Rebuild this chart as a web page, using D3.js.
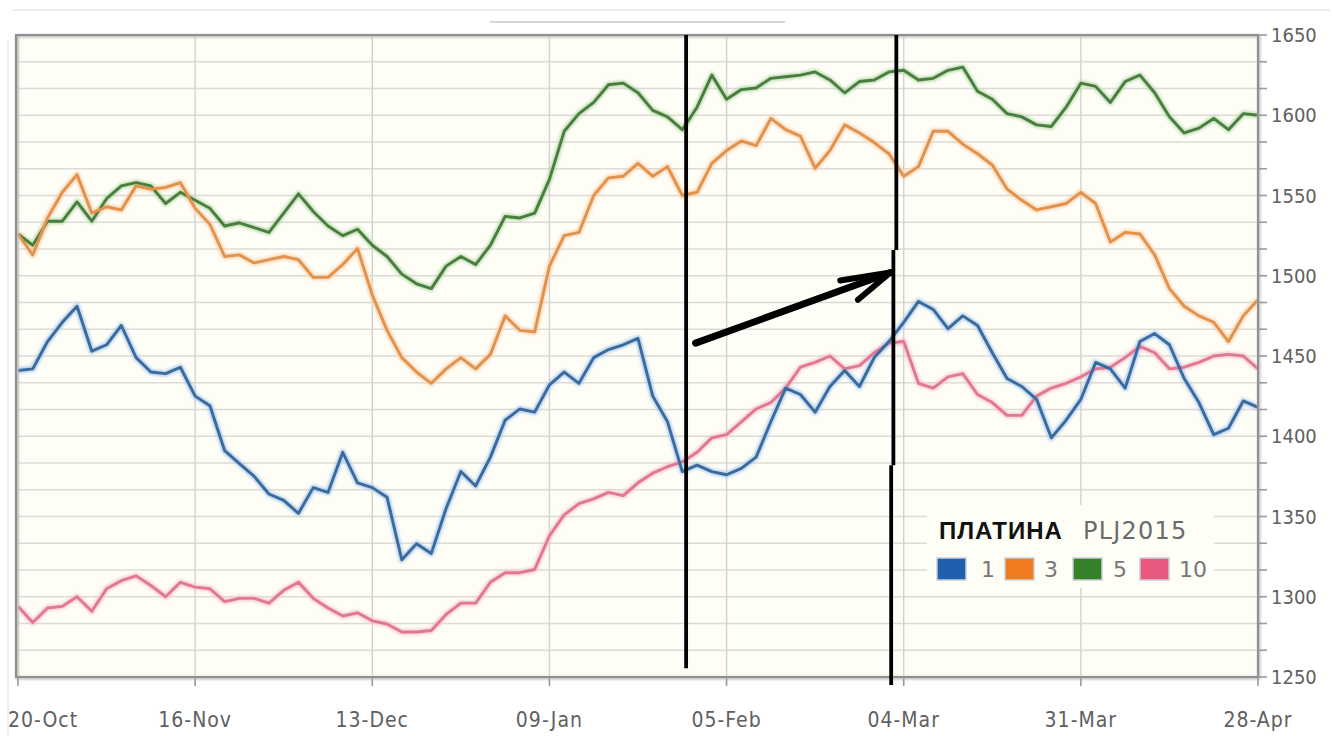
<!DOCTYPE html>
<html><head><meta charset="utf-8">
<script src="https://cdn.jsdelivr.net/npm/d3@7"></script>
<style>body{margin:0;background:#fff;}svg{display:block}</style>
</head><body><svg id="c" width="1333" height="736"></svg>
<script>
// ---- data ----
const tickLabels = ["20-Oct","16-Nov","13-Dec","09-Jan","05-Feb","04-Mar","31-Mar","28-Apr"];
const tickIndex  = [0,12,24,36,48,60,72,84];
const yMajor = [1250,1300,1350,1400,1450,1500,1550,1600,1650];
const seriesNames = ["1","3","5","10"];
const s1 = [1441,1442,1459,1471,1481,1453,1457,1469,1449,1440,1439,1443,1425,1419,1391,1383,1375,1364,1360,1352,1368,1365,1390,1371,1368,1362,1323,1333,1327,
 1355,1378,1369,1387,1410,1417,1415,1432,1440,1433,1449,1454,1457,1461,1425,1409,1378,1382,1378,1376,1380,1387,1409,1430,1426,1415,1431,1441,
 1431,1449,1459,1471,1484,1479,1467,1475,1469,1452,1436,1431,1423,1399,1410,1423,1446,1442,1430,1459,1464,1457,1436,1421,1401,1405,1422,1418];
const s3 = [1526,1513,1536,1552,1563,1539,1543,1541,1556,1554,1555,1558,1542,1532,1512,1513,1508,1510,1512,1510,1499,1499,1507,1517,1488,1466,1449,1440,1433,
 1442,1449,1442,1451,1475,1466,1465,1506,1525,1527,1550,1561,1562,1570,1562,1568,1550,1552,1570,1578,1584,1581,1598,1591,1587,1567,1578,1594,
 1589,1583,1576,1562,1568,1590,1590,1582,1576,1569,1554,1547,1541,1543,1545,1552,1545,1521,1527,1526,1513,1492,1481,1475,1471,1459,1475,1485];
const s5 = [1526,1519,1534,1534,1546,1534,1548,1556,1558,1556,1545,1552,1547,1542,1531,1533,1530,1527,1539,1551,1540,1531,1525,1529,1519,1512,1501,1495,1492,
 1506,1512,1507,1519,1537,1536,1539,1560,1590,1601,1608,1619,1620,1614,1603,1599,1591,1605,1625,1610,1616,1617,1623,1624,1625,1627,1622,1614,
 1621,1622,1627,1628,1622,1623,1628,1630,1615,1610,1601,1599,1594,1593,1605,1620,1618,1608,1621,1625,1614,1599,1589,1592,1598,1591,1601,1600];
const s10 = [1294,1284,1293,1294,1300,1291,1305,1310,1313,1307,1300,1309,1306,1305,1297,1299,1299,1296,1304,1309,1299,1293,1288,1290,1285,1283,1278,1278,1279,
 1289,1296,1296,1309,1315,1315,1317,1338,1351,1358,1361,1365,1363,1371,1377,1381,1384,1390,1399,1401,1409,1417,1421,1430,1443,1446,1450,1442,
 1444,1452,1458,1459,1433,1430,1437,1439,1426,1421,1413,1413,1425,1430,1433,1437,1442,1443,1449,1456,1452,1442,1443,1446,1450,1451,1450,1442];
const seriesValues = [s1, s3, s5, s10];
const lineColors   = ["#3b6a9c","#e0924e","#4a7d40","#e07894"];
const glowColors   = ["#a8c8ec","#f8d0a8","#b5d8a8","#f6c4d0"];
const swatchColors = ["#1f5fae","#ef7a1f","#37802a","#e9587e"];
// hand-drawn annotations (data coordinates: index, value)
const markX = [45.26, 59.5, 59.3, 59.15];
const markY0 = [1650, 1650, 1516, 1382];
const markY1 = [1255.5, 1516, 1382, 1245];
const arrowPts = [[45.9,1458],[59.1,1502]];
const headPts = [[55.7,1497],[59.1,1502],[56.9,1485]];

// ---- layout ----
const svg = d3.select("#c");
const L = 16, R = 1258, T = 35, B = 677;
const x = d3.scaleLinear().domain([0, 84]).range([18, R]);
const y = d3.scaleLinear().domain([1250, 1650]).range([B, T]);
const axisFont = "'DejaVu Sans Condensed','DejaVu Sans',sans-serif";

const defs = svg.append("defs");
const f = defs.append("filter").attr("id","sh").attr("x","-5%").attr("y","-5%").attr("width","110%").attr("height","110%");
f.append("feGaussianBlur").attr("stdDeviation",1.2);

// faint widget frame
svg.append("line").attr("x1",12).attr("x2",1330).attr("y1",10).attr("y2",10).attr("stroke","#eeeeee").attr("stroke-width",2);
svg.append("line").attr("x1",8).attr("x2",8).attr("y1",40).attr("y2",736).attr("stroke","#f0f0f0").attr("stroke-width",2);
svg.append("line").attr("x1",490).attr("x2",785).attr("y1",22).attr("y2",22).attr("stroke","#d6d6d6").attr("stroke-width",2);

// plot background
svg.append("rect").attr("x",L).attr("y",T).attr("width",R-L).attr("height",B-T).attr("fill","#fefdf6");

// horizontal grid (minor every 50/3)
const minor = d3.range(0, 25).map(i => 1250 + i*50/3);
svg.append("g").selectAll("line").data(minor).join("line")
  .attr("x1",L).attr("x2",R).attr("y1",d=>y(d)).attr("y2",d=>y(d))
  .attr("stroke","#dcdbd6").attr("stroke-width",1.6);
// vertical grid
svg.append("g").selectAll("line").data(tickIndex).join("line")
  .attr("x1",d=>x(d)).attr("x2",d=>x(d)).attr("y1",T).attr("y2",B)
  .attr("stroke","#d2d2d2").attr("stroke-width",1.4);

// legend background
const legX = 927, legY = 505;
svg.append("rect").attr("x",legX).attr("y",legY).attr("width",287).attr("height",83).attr("fill","#fefdf6");

// series lines
const line = d3.line().x((d,i)=>x(i)).y(d=>y(d));
const order = [3,2,1,0];
const gl = svg.append("g");
order.forEach(si => {
  gl.append("path").attr("d", line(seriesValues[si])).attr("fill","none")
    .attr("stroke", glowColors[si]).attr("stroke-width",6.5).attr("stroke-opacity",0.75)
    .attr("stroke-linejoin","round").attr("filter","url(#sh)");
});
order.forEach(si => {
  gl.append("path").attr("d", line(seriesValues[si])).attr("fill","none")
    .attr("stroke", lineColors[si]).attr("stroke-width",2.9).attr("stroke-linejoin","round");
});

// plot border with soft shadow
svg.append("rect").attr("x",L+1).attr("y",T+1).attr("width",R-L).attr("height",B-T)
  .attr("fill","none").attr("stroke","#bdbdbd").attr("stroke-width",3).attr("filter","url(#sh)");
svg.append("rect").attr("x",L).attr("y",T).attr("width",R-L).attr("height",B-T)
  .attr("fill","none").attr("stroke","#8f8f8f").attr("stroke-width",2);

// right y axis ticks
svg.append("g").selectAll("line").data(minor).join("line")
  .attr("x1",R).attr("x2",R+9).attr("y1",d=>y(d)).attr("y2",d=>y(d))
  .attr("stroke","#9a9a9a").attr("stroke-width",1.6);
svg.append("g").selectAll("text").data(yMajor).join("text")
  .attr("x",R+13).attr("y",d=>y(d)).attr("dy","0.36em")
  .attr("font-family",axisFont).attr("font-size",20).attr("fill","#606060")
  .text(d=>d);

// bottom x ticks + labels
svg.append("g").selectAll("line").data(tickIndex).join("line")
  .attr("x1",d=>x(d)).attr("x2",d=>x(d)).attr("y1",B).attr("y2",B+9)
  .attr("stroke","#9a9a9a").attr("stroke-width",1.6);
svg.append("g").selectAll("text").data(tickIndex).join("text")
  .attr("x",(d,i)=> i===0 ? 8 : x(d)).attr("y",727)
  .attr("text-anchor",(d,i)=> i===0 ? "start" : "middle")
  .attr("font-family",axisFont).attr("font-size",21).attr("letter-spacing",1).attr("fill","#606060")
  .text((d,i)=>tickLabels[i]);

// legend
const lg = svg.append("g");
lg.append("text").attr("x",939).attr("y",539).attr("font-family","'Liberation Sans',Arial,sans-serif")
  .attr("font-weight","bold").attr("font-size",24).attr("letter-spacing",1).attr("fill","#111").text("ПЛАТИНА");
lg.append("text").attr("x",1083).attr("y",539).attr("font-family","'DejaVu Sans',sans-serif")
  .attr("font-size",24).attr("letter-spacing",1.2).attr("fill","#6b6b6b").text("PLJ2015");
const swX = [937, 1005, 1073, 1140];
const lbX = [981, 1044, 1113, 1179];
seriesNames.forEach((n,i)=>{
  lg.append("rect").attr("x",swX[i]).attr("y",558).attr("width",29).attr("height",22)
    .attr("fill",swatchColors[i]).attr("stroke","#c8d0d8").attr("stroke-width",1.5);
  lg.append("text").attr("x",lbX[i]).attr("y",577).attr("font-family","'DejaVu Sans',sans-serif")
    .attr("font-size",22).attr("fill","#777").text(n);
});

// annotations (hand drawn black)
const ag = svg.append("g");
markX.forEach((mx,i)=>{
  ag.append("line").attr("x1",x(mx)).attr("x2",x(mx)).attr("y1",y(markY0[i])).attr("y2",y(markY1[i]))
    .attr("stroke","#000").attr("stroke-width",3.8);
});
const al = d3.line().x(d=>x(d[0])).y(d=>y(d[1]));
ag.append("path").attr("d",al(arrowPts)).attr("stroke","#000").attr("stroke-width",7)
  .attr("stroke-linecap","round").attr("fill","none");
ag.append("path").attr("d",al(headPts)).attr("stroke","#000").attr("stroke-width",6)
  .attr("stroke-linecap","round").attr("stroke-linejoin","round").attr("fill","none");
</script></body></html>
